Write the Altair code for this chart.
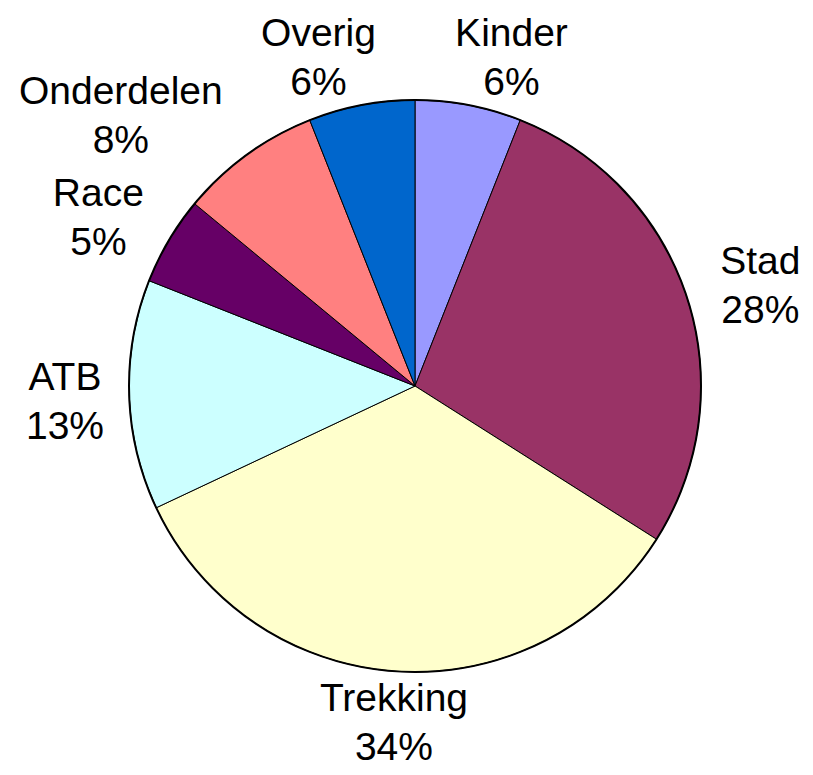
import altair as alt
import pandas as pd

# Data
categories = ["Kinder", "Stad", "Trekking", "ATB", "Race", "Onderdelen", "Overig"]
values = [6, 28, 34, 13, 5, 8, 6]
colors = ["#9999FF", "#993366", "#FFFFCC", "#CCFFFF", "#660066", "#FF8080", "#0066CC"]

df = pd.DataFrame({"cat": categories, "value": values, "idx": list(range(len(categories)))})

W, H = 797, 759
CX, CY = 407, 378
R = 286
FS = 39
LH = 49
DX, DY = 318, 298
HH = 42

base = alt.Chart(df)

pie = base.mark_arc(outerRadius=R, stroke="black", strokeWidth=1).encode(
    theta=alt.Theta("value:Q", stack=True),
    color=alt.Color("cat:N", scale=alt.Scale(domain=categories, range=colors), legend=None),
    order=alt.Order("idx:Q"),
    x=alt.value(CX),
    y=alt.value(CY),
)

outline = base.transform_aggregate(total="sum(value)").mark_arc(
    outerRadius=R, fillOpacity=0, stroke="black", strokeWidth=2
).encode(
    theta=alt.Theta("total:Q"),
    x=alt.value(CX),
    y=alt.value(CY),
)

labels = base.transform_window(
    cum="sum(value)", sort=[alt.SortField("idx")], frame=[None, 0]
).transform_joinaggregate(
    total="sum(value)"
).transform_calculate(
    a="2*PI*(datum.cum - datum.value/2)/datum.total",
).transform_calculate(
    s="sin(datum.a)", c="cos(datum.a)"
).transform_calculate(
    u="(datum.s < 0 ? -1 : 1) * clamp((abs(datum.s) - 0.06) * 4.5, 0, 1)",
    hw=f"max(length(datum.cat), length(toString(datum.value)) + 1) * {0.55 * FS / 2}",
    label="[datum.cat, datum.value + '%']",
).transform_calculate(
    lx=f"{CX} + {DX}*datum.s + datum.hw*datum.u",
    ly=f"min({CY} - {DY}*datum.c - {HH}*datum.c - {LH / 2} + 6, {H - LH - 19})",
).mark_text(
    fontSize=FS, font="Liberation Sans", lineHeight=LH, baseline="middle", align="center", color="black"
).encode(
    x=alt.X("lx:Q", scale=None, axis=None),
    y=alt.Y("ly:Q", scale=None, axis=None),
    text=alt.Text("label:N"),
)

chart = alt.layer(pie, outline, labels).properties(
    width=W, height=H, autosize="none", padding=0
).configure_view(stroke=None)

chart.save("out.html", embed_options={"renderer": "svg", "actions": False})
